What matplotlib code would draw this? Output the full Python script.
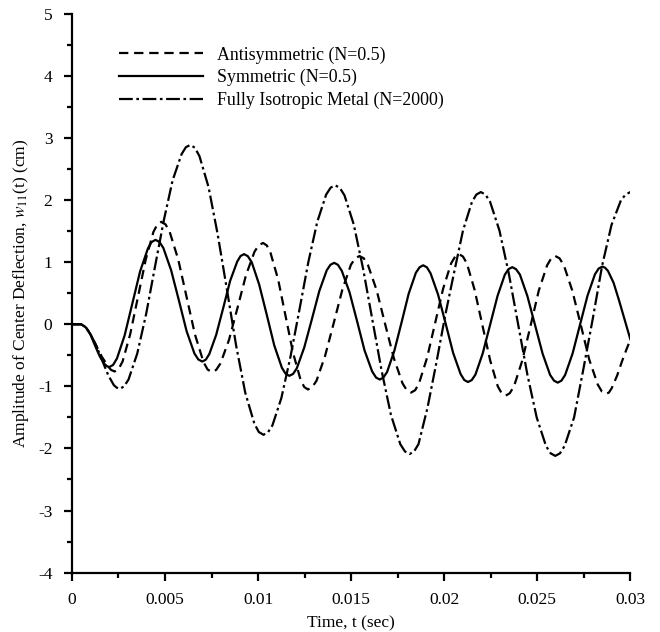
import matplotlib
matplotlib.use("Agg")
import matplotlib.pyplot as plt
import numpy as np

# values (time in ms, deflection in cm)
sym_t_ms = [0.0, 0.5, 0.75, 1.0, 1.25, 1.5, 1.75, 1.88, 2.0,
            2.21, 2.42, 2.83, 3.25, 3.66, 4.08, 4.28, 4.49,
            4.7, 4.91, 5.33, 5.75, 6.16, 6.58, 6.79, 7.0,
            7.19, 7.38, 7.75, 8.13, 8.5, 8.88, 9.06, 9.25,
            9.45, 9.66, 10.06, 10.47, 10.87, 11.28, 11.48, 11.68,
            11.88, 12.08, 12.48, 12.89, 13.29, 13.69, 13.89, 14.09,
            14.29, 14.5, 14.91, 15.32, 15.72, 16.13, 16.34, 16.54,
            16.73, 16.93, 17.32, 17.71, 18.09, 18.48, 18.68, 18.87,
            19.07, 19.27, 19.67, 20.08, 20.48, 20.88, 21.08, 21.28,
            21.48, 21.68, 22.07, 22.47, 22.87, 23.26, 23.46, 23.66,
            23.86, 24.07, 24.47, 24.88, 25.29, 25.69, 25.9, 26.1,
            26.3, 26.5, 26.9, 27.3, 27.7, 28.1, 28.3, 28.5,
            28.65, 28.8, 29.1, 29.4, 29.7, 30.0]
sym_w = [0.0, 0.0, -0.05, -0.17, -0.35, -0.52, -0.64, -0.675, -0.69,
         -0.655, -0.55, -0.18, 0.34, 0.85, 1.22, 1.325, 1.36,
         1.327, 1.23, 0.87, 0.38, -0.11, -0.47, -0.567, -0.60,
         -0.571, -0.48, -0.17, 0.265, 0.70, 1.01, 1.10, 1.13,
         1.097, 1.0, 0.64, 0.15, -0.34, -0.70, -0.797, -0.83,
         -0.80, -0.71, -0.375, 0.08, 0.535, 0.87, 0.959, 0.99,
         0.958, 0.86, 0.52, 0.05, -0.42, -0.76, -0.858, -0.89,
         -0.859, -0.77, -0.43, 0.03, 0.49, 0.83, 0.919, 0.95,
         0.918, 0.82, 0.48, 0.01, -0.46, -0.80, -0.898, -0.93,
         -0.899, -0.81, -0.47, -0.005, 0.46, 0.80, 0.889, 0.92,
         0.888, 0.80, 0.455, -0.01, -0.475, -0.815, -0.908, -0.94,
         -0.908, -0.815, -0.47, -0.005, 0.46, 0.805, 0.898, 0.93,
         0.91, 0.86, 0.67, 0.38, 0.07, -0.24]

anti_t_ms = [0.0, 0.5, 0.75, 1.0, 1.3, 1.6, 1.95, 2.1, 2.3,
             2.51, 2.72, 3.13, 3.55, 3.97, 4.38, 4.59, 4.8,
             5.03, 5.25, 5.71, 6.16, 6.61, 7.07, 7.29, 7.52,
             7.75, 7.98, 8.44, 8.9, 9.35, 9.81, 10.04, 10.27,
             10.47, 10.67, 11.08, 11.48, 11.88, 12.28, 12.48, 12.68,
             12.91, 13.14, 13.6, 14.07, 14.53, 14.99, 15.22, 15.45,
             15.68, 15.91, 16.37, 16.83, 17.3, 17.76, 17.99, 18.22,
             18.44, 18.65, 19.08, 19.51, 19.94, 20.37, 20.59, 20.8,
             21.01, 21.22, 21.63, 22.05, 22.47, 22.88, 23.09, 23.3,
             23.52, 23.75, 24.19, 24.64, 25.08, 25.53, 25.75, 25.97,
             26.2, 26.43, 26.88, 27.34, 27.79, 28.25, 28.47, 28.7,
             28.85, 29.0, 29.3, 29.55, 29.8, 30.0]
anti_w = [0.0, 0.0, -0.05, -0.16, -0.34, -0.52, -0.68, -0.735, -0.76,
          -0.719, -0.60, -0.16, 0.445, 1.05, 1.49, 1.609, 1.65,
          1.609, 1.49, 1.045, 0.44, -0.165, -0.61, -0.729, -0.77,
          -0.735, -0.63, -0.25, 0.27, 0.79, 1.17, 1.275, 1.31,
          1.27, 1.15, 0.72, 0.13, -0.46, -0.89, -1.01, -1.05,
          -1.013, -0.91, -0.51, 0.025, 0.56, 0.96, 1.063, 1.10,
          1.063, 0.95, 0.55, 0.0, -0.55, -0.95, -1.063, -1.10,
          -1.062, -0.95, -0.54, 0.015, 0.57, 0.98, 1.092, 1.13,
          1.091, 0.98, 0.56, -0.01, -0.58, -1.0, -1.111, -1.15,
          -1.112, -1.0, -0.59, -0.025, 0.54, 0.95, 1.062, 1.10,
          1.062, 0.95, 0.545, -0.01, -0.565, -0.97, -1.082, -1.12,
          -1.10, -1.03, -0.82, -0.60, -0.40, -0.25]

iso_t_ms = [0.0, 0.5, 0.75, 1.0, 1.3, 1.65, 1.95, 2.25, 2.4, 2.56,
            2.8, 3.04, 3.51, 3.99, 4.46, 4.94, 5.41, 5.89, 6.12, 6.36,
            6.6, 6.85, 7.34, 7.83, 8.33, 8.82, 9.31, 9.8, 10.04, 10.29,
            10.53, 10.77, 11.25, 11.73, 12.22, 12.7, 13.18, 13.66, 13.9, 14.14,
            14.39, 14.64, 15.14, 15.64, 16.14, 16.64, 17.14, 17.64, 17.89, 18.14,
            18.38, 18.62, 19.1, 19.58, 20.06, 20.53, 21.01, 21.49, 21.73, 21.97,
            22.22, 22.47, 22.97, 23.47, 23.97, 24.47, 24.97, 25.47, 25.72, 25.97,
            26.22, 26.47, 26.98, 27.48, 27.99, 28.49, 28.99, 29.5, 29.75, 30.0]
iso_w = [0.0, 0.0, -0.05, -0.16, -0.34, -0.60, -0.82, -0.98, -1.02, -1.04,
         -1.002, -0.89, -0.47, 0.17, 0.925, 1.68, 2.32, 2.74, 2.852, 2.89,
         2.845, 2.71, 2.21, 1.45, 0.555, -0.34, -1.10, -1.60, -1.735, -1.78,
         -1.741, -1.63, -1.19, -0.54, 0.23, 1.0, 1.65, 2.09, 2.201, 2.24,
         2.198, 2.08, 1.61, 0.90, 0.075, -0.75, -1.46, -1.93, -2.048, -2.09,
         -2.05, -1.93, -1.35, -0.62, 0.15, 0.83, 1.51, 1.97, 2.09, 2.13,
         2.089, 1.97, 1.51, 0.82, 0.005, -0.81, -1.50, -1.96, -2.079, -2.12,
         -2.079, -1.96, -1.50, -0.72, 0.10, 0.95, 1.60, 2.00, 2.09, 2.13]

series_labels = ["Antisymmetric (N=0.5)", "Symmetric (N=0.5)",
                 "Fully Isotropic Metal (N=2000)"]
x_ticks = [0, 0.005, 0.01, 0.015, 0.02, 0.025, 0.03]
x_tick_labels = ["0", "0.005", "0.01", "0.015", "0.02", "0.025", "0.03"]
y_ticks = [-4, -3, -2, -1, 0, 1, 2, 3, 4, 5]

plt.rcParams["font.family"] = ["Liberation Serif", "DejaVu Serif"]
plt.rcParams["mathtext.fontset"] = "stix"
plt.rcParams["axes.unicode_minus"] = False

fig = plt.figure(figsize=(6.6, 6.32), dpi=100)
ax = fig.add_axes([0.109, 0.094, 0.846, 0.884])

lw = 1.6
ax.plot(np.asarray(anti_t_ms) * 1e-3, anti_w, color="black", lw=lw,
        linestyle=(0, (4.2, 2.6)), label=series_labels[0])
ax.plot(np.asarray(sym_t_ms) * 1e-3, sym_w, color="black", lw=lw,
        linestyle="-", label=series_labels[1])
ax.plot(np.asarray(iso_t_ms) * 1e-3, iso_w, color="black", lw=lw,
        linestyle=(0, (6.2, 1.6, 1.2, 1.6)), label=series_labels[2])

ax.set_xlim(0, 0.03)
ax.set_ylim(-4, 5)
ax.set_xticks(x_ticks)
ax.set_xticklabels(x_tick_labels)
ax.set_xticks([0.0025, 0.0075, 0.0125, 0.0175, 0.0225, 0.0275], minor=True)
ax.set_yticks(y_ticks)
ax.set_yticklabels([str(v) for v in y_ticks])
ax.set_yticks(np.arange(-3.5, 5.0, 1.0), minor=True)

for side in ("top", "right"):
    ax.spines[side].set_visible(False)
for side in ("left", "bottom"):
    ax.spines[side].set_linewidth(1.6)

ax.tick_params(which="major", direction="out", length=6, width=1.6,
               labelsize=12.5, pad=8)
ax.tick_params(which="minor", direction="out", length=3.5, width=1.6)

ax.set_xlabel("Time, t (sec)", fontsize=12.5, labelpad=5)
ax.set_ylabel(r"Amplitude of Center Deflection, $w_{11}$(t) (cm)",
              fontsize=12.5, labelpad=5)

ax.legend(loc="upper left", bbox_to_anchor=(0.084, 0.942), frameon=False,
          fontsize=12.9, handlelength=4.7, handletextpad=0.8,
          labelspacing=0.3, borderpad=0, borderaxespad=0)

fig.savefig("out.png", dpi=100)
